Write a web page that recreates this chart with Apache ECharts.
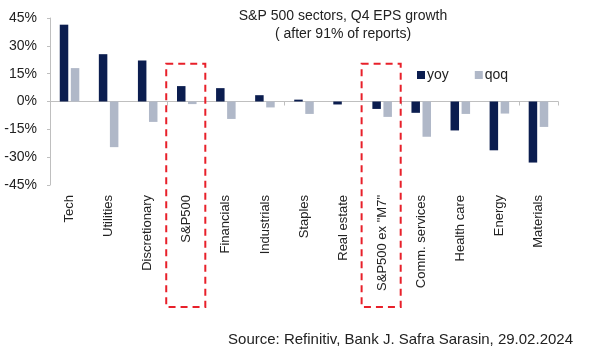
<!DOCTYPE html>
<html>
<head>
<meta charset="utf-8">
<script src="https://cdn.jsdelivr.net/npm/echarts@6/dist/echarts.min.js"></script>
<style>
  html, body { margin: 0; padding: 0; background: #fff; }
  #chart { width: 589px; height: 354px; }
</style>
</head>
<body>
<div id="chart"></div>
<script>
// sectors, Q4 EPS growth in %
const categories = ['Tech', 'Utilities', 'Discretionary', 'S&P500', 'Financials', 'Industrials', 'Staples',
  'Real estate', 'S&P500 ex "M7"', 'Comm. services', 'Health care', 'Energy', 'Materials']
const yoy = [41.4, 25.5, 22.1, 8.3, 7.2, 3.4, 1.0, -1.6, -4.0, -6.1, -15.6, -26.3, -32.9]
const qoq = [18.0, -24.6, -11.0, -1.4, -9.4, -3.2, -6.7, 0, -8.3, -19.0, -6.7, -6.5, -13.7]
const highlighted = ['S&P500', 'S&P500 ex "M7"']

const font = '"Liberation Sans", Arial, sans-serif'
const navy = '#0b1d4f'
const grey = '#b0b8c8'

const myChart = echarts.init(document.getElementById('chart'), null, { renderer: 'canvas' })

const option = {
  animation: false,
  backgroundColor: '#fff',
  textStyle: { fontFamily: font },
  title: [
    {
      text: 'S&P 500 sectors, Q4 EPS growth\n( after 91% of reports)',
      left: 338,
      top: 2,
      textAlign: 'center',
      textStyle: { fontFamily: font, fontSize: 14, fontWeight: 'normal', color: '#222', lineHeight: 18 }
    },
    {
      text: 'Source: Refinitiv, Bank J. Safra Sarasin, 29.02.2024',
      right: 11,
      top: 327,
      textStyle: { fontFamily: font, fontSize: 15, fontWeight: 'normal', color: '#222' }
    }
  ],
  legend: {
    data: ['yoy', 'qoq'],
    left: 412,
    top: 63,
    itemWidth: 8,
    itemHeight: 8,
    itemGap: 26,
    icon: 'rect',
    textStyle: { fontFamily: font, fontSize: 14, color: '#222', padding: [0, 0, 0, -3] }
  },
  grid: { left: 50, right: 31, top: 18, bottom: 169 },
  xAxis: [
    {
      type: 'category',
      data: categories,
      axisLine: { onZero: true, lineStyle: { color: '#bfbfbf', width: 1 } },
      axisTick: { show: true, length: 4, lineStyle: { color: '#bfbfbf' } },
      axisLabel: { show: false }
    },
    {
      type: 'category',
      data: categories,
      position: 'bottom',
      axisLine: { show: false, onZero: false },
      axisTick: { show: false },
      axisLabel: { rotate: 90, margin: 10, fontFamily: font, fontSize: 13, color: '#222', interval: 0 }
    }
  ],
  yAxis: {
    type: 'value',
    min: -45,
    max: 45,
    interval: 15,
    axisLine: { show: true, lineStyle: { color: '#bfbfbf' } },
    axisTick: { show: true, length: 3, lineStyle: { color: '#bfbfbf' } },
    splitLine: { show: false },
    axisLabel: { formatter: '{value}%', fontFamily: font, fontSize: 14, color: '#222', margin: 13 }
  },
  series: [
    {
      name: 'yoy',
      type: 'bar',
      data: yoy,
      barWidth: 8.5,
      barGap: '30%',
      itemStyle: { color: navy }
    },
    {
      name: 'qoq',
      type: 'bar',
      data: qoq,
      barWidth: 8.5,
      itemStyle: { color: grey }
    }
  ]
}

myChart.setOption(option)

// dashed boxes round the index categories
const band = myChart.convertToPixel({ xAxisIndex: 0 }, 1) - myChart.convertToPixel({ xAxisIndex: 0 }, 0)
const boxTop = myChart.convertToPixel({ yAxisIndex: 0 }, 20.3)
const boxes = highlighted.map(name => {
  const cx = myChart.convertToPixel({ xAxisIndex: 0 }, name)
  return {
    type: 'rect',
    shape: { x: cx - band / 2 - 1, y: boxTop, width: band, height: 307 - boxTop },
    style: { fill: 'none', stroke: '#e8202a', lineWidth: 2, lineDash: [7, 5] },
    z: 10
  }
})
myChart.setOption({ graphic: boxes })
</script>
</body>
</html>
